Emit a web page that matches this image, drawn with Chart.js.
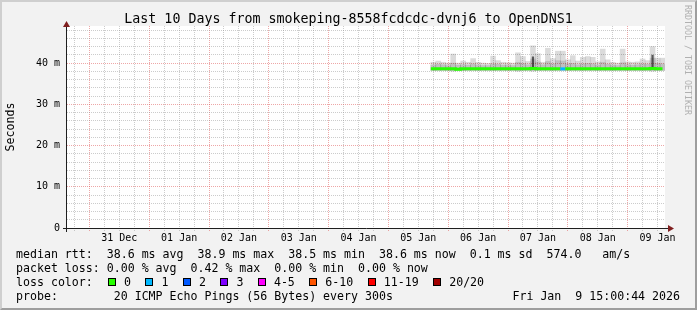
<!DOCTYPE html>
<html>
<head>
<meta charset="utf-8">
<script src="https://cdn.jsdelivr.net/npm/chart.js@4/dist/chart.umd.min.js"></script>
<style>
html,body{margin:0;padding:0;background:#f2f2f2;}
#wrap{position:relative;width:697px;height:310px;background:#f2f2f2;overflow:hidden;font-family:"DejaVu Sans Mono",monospace;color:#000;}
#c{position:absolute;left:0;top:0;}
#shade{position:absolute;left:0;top:0;width:697px;height:310px;box-sizing:border-box;border:2px solid;border-color:#cfcfcf #9e9e9e #9e9e9e #cfcfcf;pointer-events:none;}
#title{position:absolute;left:0;top:10px;width:697px;text-align:center;font-size:13.3px;line-height:18px;white-space:pre;}
#logo{position:absolute;left:683px;top:5px;writing-mode:vertical-rl;font-size:8.3px;line-height:10px;color:#b0b0b0;white-space:pre;}
.row{position:absolute;left:16px;font-size:11.6px;line-height:14px;white-space:pre;}
.item{position:absolute;top:0;white-space:pre;}
.box{position:absolute;top:3px;width:6px;height:6px;border:1px solid #000;}
</style>
</head>
<body>
<div id="wrap">
  <canvas id="c" width="697" height="310"></canvas>
  <div id="title">Last 10 Days from smokeping-8558fcdcdc-dvnj6 to OpenDNS1</div>
  <div id="logo">RRDTOOL / TOBI OETIKER</div>
  <div class="row" style="top:247px">median rtt:  38.6 ms avg  38.9 ms max  38.5 ms min  38.6 ms now  0.1 ms sd  574.0   am/s</div>
  <div class="row" style="top:261px">packet loss: 0.00 % avg  0.42 % max  0.00 % min  0.00 % now</div>
  <div class="row" id="lossrow" style="top:275px">loss color:</div>
  <div class="row" style="top:289px">probe:        20 ICMP Echo Pings (56 Bytes) every 300s</div>
  <div class="row" style="top:289px;left:auto;right:17px">Fri Jan  9 15:00:44 2026</div>
  <div id="shade"></div>
</div>
<script>
// x axis runs in hours from Dec 30 15:00 to Jan 9 15:00
const dayLabels = ['31 Dec','01 Jan','02 Jan','03 Jan','04 Jan','05 Jan','06 Jan','07 Jan','08 Jan','09 Jan'];
const yLabelled = [0, 10, 20, 30, 40];
const firstBinHour = 146, binHours = 2;

// per 2h bin, ms
const medianRtt = [38.6,38.6,38.6,38.6,38.6,38.5,38.6,38.6,38.6,38.6,
                   38.6,38.6,38.6,38.6,38.6,38.6,38.6,38.6,38.6,38.6,
                   38.7,38.6,38.6,38.6,38.6,38.6,38.6,38.6,38.6,38.6,
                   38.6,38.6,38.6,38.6,38.6,38.6,38.6,38.6,38.6,38.6,
                   38.6,38.6,38.6,38.6,38.7,38.6,38.6];
const smokeLow  = [38.2,38.2,38.2,38.2,38.1,38.2,38.2,38.2,38.2,38.2,
                   38.2,38.2,38.2,38.2,38.2,38.2,38.2,38.1,38.2,38.2,
                   38.1,38.2,38.2,38.2,38.2,38.2,38.2,38.2,38.2,38.2,
                   38.2,38.2,38.2,38.2,38.2,38.2,38.2,38.2,38.2,38.2,
                   38.2,38.2,38.2,38.2,38.1,38.2,38.2];
const smokeMid  = [39.5,39.7,39.6,39.4,40.0,39.5,39.6,39.5,39.8,39.5,
                   39.4,39.4,39.8,39.7,39.5,39.5,39.4,40.2,39.9,39.6,
                   41.0,40.3,39.6,40.4,39.8,40.6,40.5,39.8,39.9,39.6,
                   39.8,39.9,39.8,39.5,40.2,39.7,39.5,39.4,40.1,39.6,
                   39.5,39.6,39.8,39.7,41.2,39.9,39.8];
const smokeHigh = [40.2,40.5,40.2,40.0,42.2,40.0,40.5,40.2,41.1,40.2,
                   40.0,39.9,41.7,40.6,40.2,40.1,40.0,42.5,41.6,40.4,
                   44.2,42.3,40.2,43.6,41.1,42.9,42.9,40.8,41.8,40.5,
                   41.4,41.6,41.4,40.3,43.4,40.8,40.2,40.0,43.4,40.3,
                   40.2,40.3,41.0,40.6,44.0,41.2,41.2];
const lossPings = [0,0,0,0,0,0,0,0,0,0,
                   0,0,0,0,0,0,0,0,0,0,
                   0,0,0,0,0,0,1,0,0,0,
                   0,0,0,0,0,0,0,0,0,0,
                   0,0,0,0,0,0,0];
const spikeBins = [20, 44];
const spikeTop  = [41.6, 42.0];

const lossLabels = ['0','1','2','3','4-5','6-10','11-19','20/20'];
const lossLimits = [0, 1, 2, 3, 5, 10, 19, 20];
const lossColors = ['#26ff00','#00b8ff','#0059ff','#7e00ff','#ff00ff','#ff5500','#ff0000','#a10000'];

const GRID = 'rgba(143,143,143,0.45)';
const MGRID = 'rgba(222,79,79,0.5)';
const FONT = 'DejaVu Sans Mono';

function lossColor(n) {
  for (let i = 0; i < lossLimits.length; i++) if (n <= lossLimits[i]) return lossColors[i];
  return lossColors[lossColors.length-1];
}
const binCenter = i => firstBinHour + binHours*(i+0.5);

// loss colour legend
const row = document.getElementById('lossrow');
let lx = 92;
lossLabels.forEach((lab, i) => {
  const it = document.createElement('span');
  it.className = 'item';
  it.style.left = lx + 'px';
  it.innerHTML = `<span class="box" style="left:0;background:${lossColors[i]}"></span><span style="position:absolute;left:16px">${lab}</span>`;
  row.appendChild(it);
  lx += 16 + lab.length*6.98 + 14.5;
});

const frame = {
  id: 'frame',
  beforeDraw(chart) {
    const {ctx, chartArea:a} = chart;
    ctx.save();
    ctx.fillStyle = '#fff';
    ctx.fillRect(a.left, a.top, a.right-a.left, a.bottom-a.top);
    ctx.restore();
  },
  afterDraw(chart) {
    const {ctx, chartArea:a} = chart;
    ctx.save();
    ctx.strokeStyle = '#1f1f1f'; ctx.lineWidth = 1;
    ctx.beginPath();
    ctx.moveTo(a.left-0.5, a.top-3); ctx.lineTo(a.left-0.5, a.bottom+4);
    ctx.moveTo(a.left-4, a.bottom+0.5); ctx.lineTo(a.right+5, a.bottom+0.5);
    ctx.stroke();
    ctx.fillStyle = '#801f1f';
    ctx.beginPath();
    ctx.moveTo(a.left-0.5, a.top-5); ctx.lineTo(a.left-4, a.top+1); ctx.lineTo(a.left+3, a.top+1); ctx.closePath(); ctx.fill();
    ctx.beginPath();
    ctx.moveTo(a.right+9, a.bottom+0.5); ctx.lineTo(a.right+3, a.bottom-3); ctx.lineTo(a.right+3, a.bottom+4); ctx.closePath(); ctx.fill();
    ctx.restore();
  }
};

const medianPts = medianRtt.map((v,i) => ({x: firstBinHour + binHours*i, y: v}));
medianPts.push({x: firstBinHour + binHours*medianRtt.length - 1, y: medianRtt[medianRtt.length-1]});

new Chart(document.getElementById('c'), {
  type: 'line',
  data: {
    datasets: [
      {
        type: 'bar', order: 3, grouped: false,
        data: smokeHigh.map((h,i) => ({x: binCenter(i), y: [smokeLow[i], h]})),
        backgroundColor: 'rgba(0,0,0,0.14)', borderWidth: 0,
        barPercentage: 1, categoryPercentage: 1
      },
      {
        type: 'bar', order: 2, grouped: false,
        data: smokeMid.map((m,i) => ({x: binCenter(i), y: [smokeLow[i], m]})),
        backgroundColor: 'rgba(0,0,0,0.12)', borderWidth: 0,
        barPercentage: 1, categoryPercentage: 1
      },
      {
        type: 'bar', order: 1, grouped: false,
        data: spikeBins.map((b,i) => ({x: binCenter(b), y: [medianRtt[b], spikeTop[i]]})),
        backgroundColor: 'rgba(0,0,0,0.6)', borderWidth: 0,
        barPercentage: 0.45, categoryPercentage: 1
      },
      {
        type: 'line', order: 0,
        data: medianPts,
        stepped: true, borderWidth: 3, pointRadius: 0,
        borderColor: lossColors[0],
        segment: { borderColor: c => lossColor(lossPings[Math.min(c.p0DataIndex, lossPings.length-1)]) }
      }
    ]
  },
  options: {
    responsive: false, animation: false, devicePixelRatio: 1,
    layout: { padding: {top: 26, right: 32, left: 0, bottom: 0} },
    plugins: { legend: {display: false}, tooltip: {enabled: false} },
    scales: {
      x: {
        type: 'linear', min: 0, max: 240, offset: false,
        afterBuildTicks(s) { const t = []; for (let h = 3; h < 240; h += 6) t.push({value: h}); s.ticks = t; },
        afterFit(s) { s.height = 82; },
        grid: {
          offset: false, lineWidth: 1, drawTicks: true, tickLength: 3,
          color: c => ((c.tick.value - 9) % 24 === 0 ? MGRID : GRID),
          tickColor: c => ((c.tick.value - 9) % 24 === 0 ? MGRID : GRID),
          tickBorderDash: [1,1]
        },
        border: { display: false, dash: [1,1] },
        ticks: {
          autoSkip: false, maxRotation: 0, padding: 1, color: '#000',
          font: {family: FONT, size: 10},
          callback: v => ((v - 21) % 24 === 0 ? dayLabels[(v - 21) / 24] : '')
        }
      },
      y: {
        min: 0, max: 49,
        afterBuildTicks(s) { const t = []; for (let v = 0; v <= 48; v += 2) t.push({value: v}); s.ticks = t; },
        afterFit(s) { s.width = 67; },
        grid: {
          lineWidth: 1, drawTicks: false,
          color: c => (c.tick.value % 10 === 0 && c.tick.value > 0 ? MGRID : GRID)
        },
        border: { display: false, dash: [1,1] },
        ticks: {
          autoSkip: false, padding: 7, color: '#000', font: {family: FONT, size: 10},
          callback: v => (yLabelled.includes(v) ? (v === 0 ? '0' : v + ' m') : '')
        },
        title: {
          display: true, text: 'Seconds', color: '#000',
          font: {family: FONT, size: 11.6}, padding: {top: 4, bottom: 0}
        }
      }
    }
  },
  plugins: [frame]
});
</script>
</body>
</html>
